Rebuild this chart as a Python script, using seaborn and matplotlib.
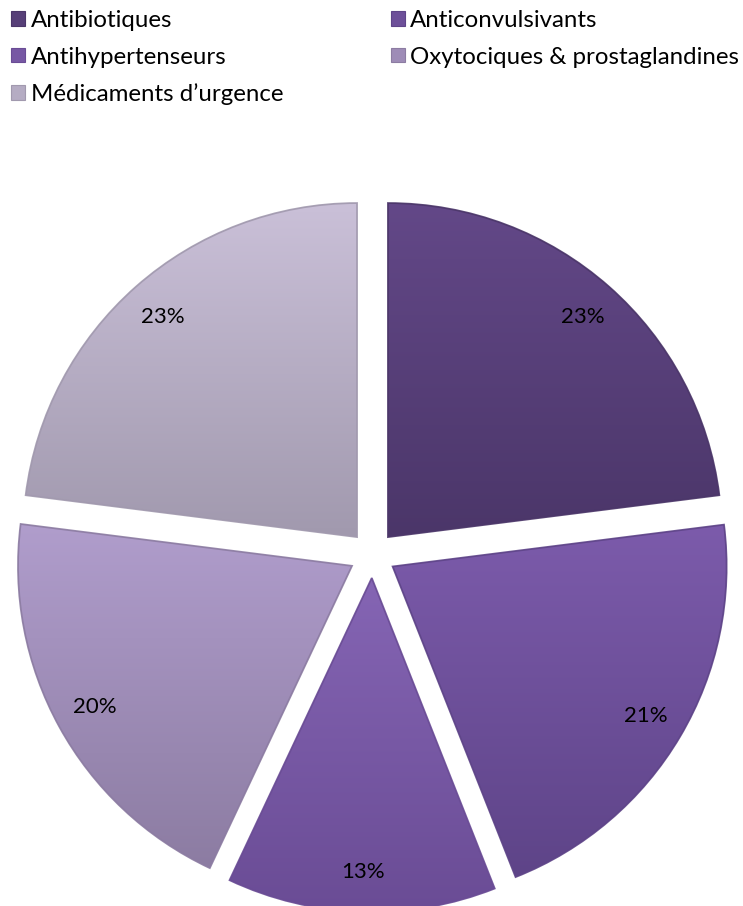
import numpy as np
import matplotlib
matplotlib.use("Agg")
import matplotlib.pyplot as plt
from matplotlib.colors import LinearSegmentedColormap
from matplotlib.patches import Patch, PathPatch
import seaborn as sns

# Répartition des médicaments par classe thérapeutique (%)
categories = ["Antibiotiques", "Anticonvulsivants", "Antihypertenseurs",
              "Oxytociques & prostaglandines", "Médicaments d’urgence"]
values = [23, 21, 13, 20, 23]

# Dégradé vertical de chaque part (haut -> bas)
top_colors = ["#634888", "#7c5bab", "#8565b4", "#b09dcc", "#cac0d8"]
bottom_colors = ["#4b3669", "#5e4488", "#6a4c95", "#8c7ca2", "#a199ae"]

sns.set_theme(style="white")
plt.rcParams["font.family"] = ["Lato", "DejaVu Sans"]
plt.rcParams["text.color"] = "black"

W, H = 743, 906
fig = plt.figure(figsize=(W / 100, H / 100), dpi=100)
fig.patch.set_facecolor("white")

# Axe du camembert : 1 unité = rayon
R_px = 334
cx, cy = 372.5, 554.6
lim = 1.1
side = 2 * lim * R_px
ax = fig.add_axes([(cx - side / 2) / W, (H - cy - side / 2) / H, side / W, side / H])

mid_colors = [sns.blend_palette([t, b], 3)[1] for t, b in zip(top_colors, bottom_colors)]

wedges, texts, autotexts = ax.pie(
    values,
    colors=mid_colors,
    startangle=90,
    counterclock=False,
    explode=[0.07] * len(values),
    autopct=lambda p: f"{p:.0f}%",
    pctdistance=0.88,
    radius=1.0,
    frame=False,
    wedgeprops=dict(linewidth=0),
    textprops=dict(fontsize=16, color="black"),
)
ax.set_xlim(-lim, lim)
ax.set_ylim(-lim, lim)
ax.set_aspect("auto")
ax.axis("off")

# Remplissage en dégradé, découpé sur chaque part
for w, top, bot in zip(wedges, top_colors, bottom_colors):
    cmap = LinearSegmentedColormap.from_list("g", [bot, top])
    grad = np.linspace(0, 1, 256).reshape(-1, 1)
    path = w.get_path().transformed(w.get_patch_transform())
    ext = path.get_extents()
    im = ax.imshow(grad, cmap=cmap, origin="lower", aspect="auto",
                   extent=[ext.x0, ext.x1, ext.y0, ext.y1], zorder=w.get_zorder() + 0.1,
                   interpolation="bilinear")
    im.set_clip_path(w)
    # liseré du biseau
    ax.add_patch(PathPatch(path, fill=False, edgecolor=bot, linewidth=1.3,
                           alpha=0.9, zorder=w.get_zorder() + 0.2))

ax.set_xlim(-lim, lim)
ax.set_ylim(-lim, lim)
for t in autotexts:
    t.set_zorder(10)

# Légende sur deux colonnes, remplie ligne par ligne
order = [0, 2, 4, 1, 3]
handles = [Patch(facecolor=mid_colors[i], edgecolor=bottom_colors[i], linewidth=0.8) for i in order]
labels = [categories[i] for i in order]
fig.legend(handles, labels, loc="upper left", bbox_to_anchor=(0.012, 0.992),
           ncol=2, frameon=False, fontsize=17.3, handlelength=0.58, handleheight=0.58,
           handletextpad=0.22, columnspacing=4.5, labelspacing=0.66,
           borderaxespad=0, borderpad=0.1)

fig.savefig("out.png", dpi=100, facecolor="white")
